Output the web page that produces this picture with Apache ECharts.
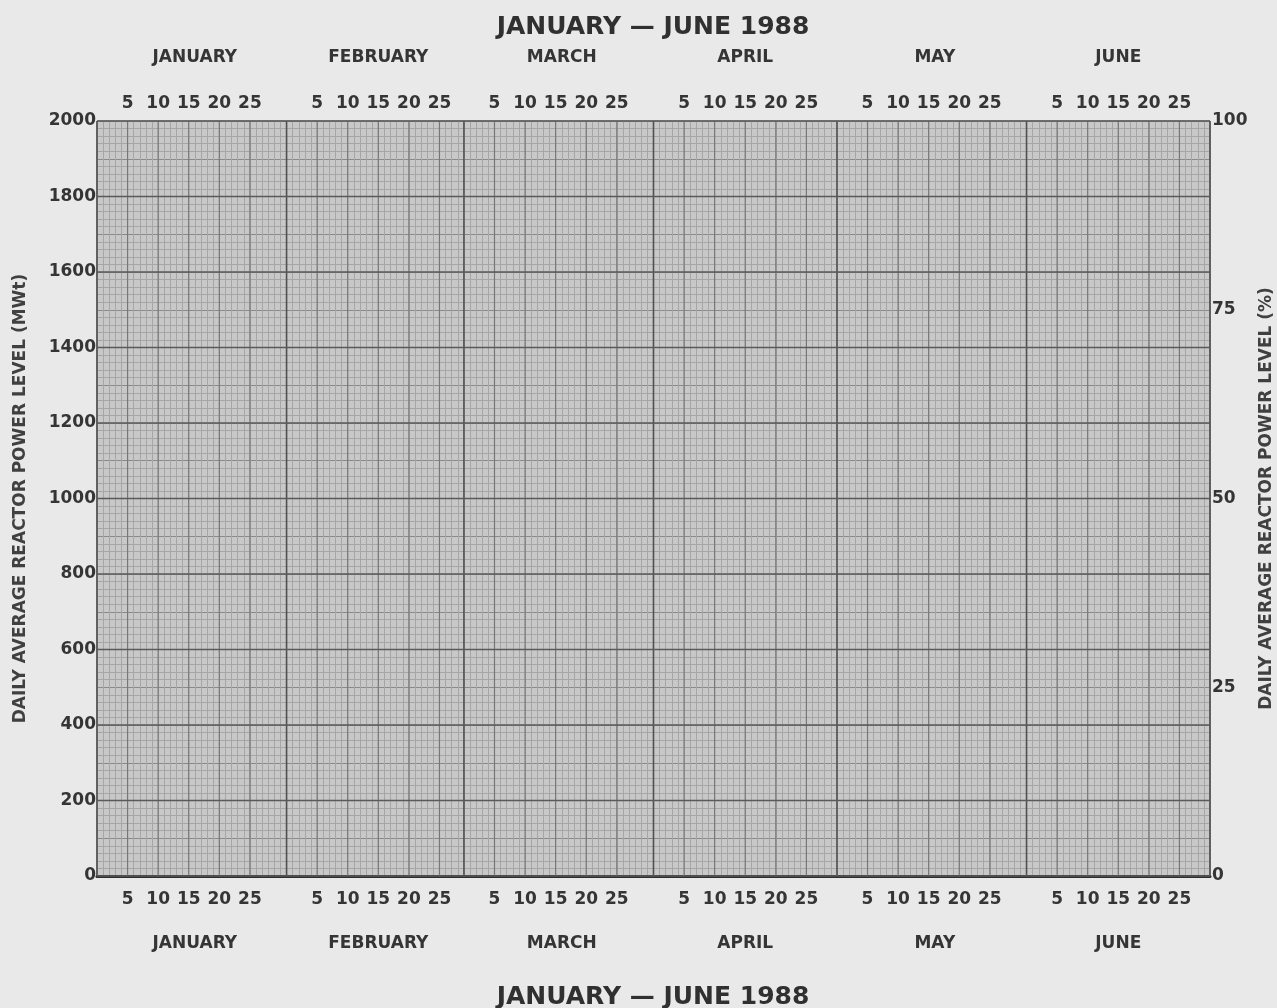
<!DOCTYPE html>
<html><head><meta charset="utf-8">
<script src="https://cdn.jsdelivr.net/npm/echarts@6/dist/echarts.min.js"></script>
<style>html,body{margin:0;padding:0;background:#e9e9e9;} #c{width:1277px;height:1008px;}</style>
</head><body><div id="c"></div>
<script>
// ---- data ----
const monthNames = ['JANUARY','FEBRUARY','MARCH','APRIL','MAY','JUNE'];
const monthDays = [31, 29, 31, 30, 31, 30];
const dayTicks = [5, 10, 15, 20, 25];
const mwMajorTicks = [0, 200, 400, 600, 800, 1000, 1200, 1400, 1600, 1800, 2000];
const percentTicks = [0, 25, 50, 75, 100];
const titleText = 'JANUARY \u2014 JUNE 1988';
const leftName = 'DAILY AVERAGE REACTOR POWER LEVEL (MWt)';
const rightName = 'DAILY AVERAGE REACTOR POWER LEVEL (%)';

// ---- derived ----
const monthStart = [];
let acc = 0;
monthDays.forEach(d => { monthStart.push(acc); acc += d; });
const totalDays = acc;
const mwMax = mwMajorTicks[mwMajorTicks.length - 1];

function dayLabel(v) {
  for (let i = 0; i < monthDays.length; i++) {
    const d = v - monthStart[i];
    if (d > 0 && d < monthDays[i] && dayTicks.indexOf(d) >= 0) return String(d);
  }
  return '';
}
function monthLabel(v) {
  for (let i = 0; i < monthDays.length; i++) {
    if (v === monthStart[i] + Math.round(monthDays[i] / 2)) return monthNames[i];
  }
  return '';
}

// heavy grid lines: [x1, y1, x2, y2, kind]
const heavyLines = [];
monthStart.forEach(s => {
  heavyLines.push([s, 0, s, mwMax, 2]);
  dayTicks.forEach(d => heavyLines.push([s + d, 0, s + d, mwMax, 1]));
});
heavyLines.push([totalDays, 0, totalDays, mwMax, 2]);
mwMajorTicks.forEach(v => heavyLines.push([0, v, totalDays, v, 3]));

const FONT = 'DejaVu Sans';
const TXT = '#353535';
const FINE = '#a6a6a6';
const MED = '#8a8a8a';

const chart = echarts.init(document.getElementById('c'), null, {renderer: 'canvas'});
const dayAxisBase = {
  type: 'value', min: 0, max: totalDays, interval: 1,
  axisTick: {show: false},
};
chart.setOption({
  backgroundColor: '#e9e9e9',
  animation: false,
  title: [
    {text: titleText, left: 648, textAlign: 'center', top: 10,
     textStyle: {fontFamily: FONT, fontSize: 25, fontWeight: 'bold', color: '#303030'}},
    {text: titleText, left: 648, textAlign: 'center', top: 980,
     textStyle: {fontFamily: FONT, fontSize: 25, fontWeight: 'bold', color: '#303030'}}
  ],
  grid: {left: 97, right: 67, top: 121, bottom: 132, show: true,
         outerBoundsMode: 'none', containLabel: false,
         backgroundColor: '#c8c8c8', borderColor: '#666', borderWidth: 1},
  xAxis: [
    Object.assign({}, dayAxisBase, {
      position: 'bottom',
      axisLine: {show: true, onZero: false, lineStyle: {color: '#2e2e2e', width: 3}},
      splitLine: {show: true, lineStyle: {color: FINE, width: 1}},
      axisLabel: {formatter: dayLabel, margin: 15, fontFamily: FONT, fontSize: 17, fontWeight: 'bold', color: TXT}
    }),
    Object.assign({}, dayAxisBase, {
      position: 'top',
      axisLine: {show: false},
      splitLine: {show: false},
      axisLabel: {formatter: dayLabel, margin: 9, fontFamily: FONT, fontSize: 17, fontWeight: 'bold', color: TXT}
    }),
    Object.assign({}, dayAxisBase, {
      position: 'bottom', offset: 0,
      axisLine: {show: false},
      splitLine: {show: false},
      axisLabel: {formatter: monthLabel, margin: 59, fontFamily: FONT, fontSize: 17, fontWeight: 'bold', color: TXT}
    }),
    Object.assign({}, dayAxisBase, {
      position: 'top', offset: 0,
      axisLine: {show: false},
      splitLine: {show: false},
      axisLabel: {formatter: monthLabel, margin: 55, fontFamily: FONT, fontSize: 17, fontWeight: 'bold', color: TXT}
    })
  ],
  yAxis: [
    {
      type: 'value', position: 'left', min: 0, max: mwMax, interval: 100,
      name: leftName, nameLocation: 'middle', nameGap: 68, nameRotate: 90,
      nameTextStyle: {fontFamily: FONT, fontSize: 17, fontWeight: 'bold', color: '#404040'},
      axisLine: {show: false}, axisTick: {show: false},
      axisLabel: {formatter: v => (mwMajorTicks.indexOf(v) >= 0 ? String(v) : ''),
                  margin: 1, fontFamily: FONT, fontSize: 17, fontWeight: 'bold', color: TXT},
      splitLine: {show: true, lineStyle: {color: MED, width: 1}},
      minorTick: {show: false, splitNumber: 5},
      minorSplitLine: {show: true, lineStyle: {color: FINE, width: 1}}
    },
    {
      type: 'value', position: 'right', min: 0, max: percentTicks[percentTicks.length - 1], interval: 25,
      name: rightName, nameLocation: 'middle', nameGap: 46, nameRotate: 90,
      nameTextStyle: {fontFamily: FONT, fontSize: 17, fontWeight: 'bold', color: '#404040'},
      axisLine: {show: false}, axisTick: {show: false},
      axisLabel: {margin: 2, fontFamily: FONT, fontSize: 17, fontWeight: 'bold', color: TXT},
      splitLine: {show: false}
    }
  ],
  series: [{
    type: 'custom', xAxisIndex: 0, yAxisIndex: 0, silent: true, z: 1,
    data: heavyLines,
    encode: {x: [0, 2], y: [1, 3]},
    renderItem: function (params, api) {
      const a = api.coord([api.value(0), api.value(1)]);
      const b = api.coord([api.value(2), api.value(3)]);
      const k = api.value(4);
      const color = k === 2 ? '#505050' : (k === 3 ? '#5a5a5a' : '#777777');
      const w = k === 1 ? 1.2 : 1.6;
      return {type: 'line', shape: {x1: a[0], y1: a[1], x2: b[0], y2: b[1]},
              style: {stroke: color, lineWidth: w}};
    }
  }]
});
</script>
</body></html>
